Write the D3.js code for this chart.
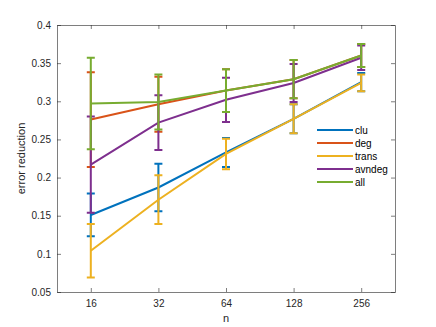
<!DOCTYPE html>
<html>
<head>
<meta charset="utf-8">
<script src="https://cdn.jsdelivr.net/npm/d3@7"></script>
<style>
  body { margin: 0; background: #fff; }
  text { font-family: "Liberation Sans", Arial, sans-serif; }
</style>
</head>
<body>
<div id="chart"></div>
<script>
// categories on the x axis
var nLabels = ['16', '32', '64', '128', '256'];

// series means
var clu    = [0.151, 0.187, 0.233, 0.277, 0.325];
var deg    = [0.276, 0.296, 0.314, 0.329, 0.360];
var trans  = [0.104, 0.171, 0.231, 0.277, 0.324];
var avndeg = [0.217, 0.272, 0.302, 0.324, 0.357];
var all    = [0.297, 0.299, 0.314, 0.329, 0.360];

// half widths of the error bars
var cluErr    = [0.028, 0.031, 0.019, 0.019, 0.012];
var degErr    = [0.062, 0.036, 0.028, 0.025, 0.015];
var transErr  = [0.035, 0.032, 0.020, 0.019, 0.011];
var avndegErr = [0.063, 0.036, 0.029, 0.025, 0.016];
var allErr    = [0.060, 0.036, 0.028, 0.025, 0.015];

var yTicks = [0.05, 0.1, 0.15, 0.2, 0.25, 0.3, 0.35, 0.4];

var series = [
    { name : 'clu',    values : clu,    err : cluErr,    color : '#0072BD' },
    { name : 'deg',    values : deg,    err : degErr,    color : '#D95319' },
    { name : 'trans',  values : trans,  err : transErr,  color : '#EDB120' },
    { name : 'avndeg', values : avndeg, err : avndegErr, color : '#7E2F8E' },
    { name : 'all',    values : all,    err : allErr,    color : '#77AC30' }
];

var WIDTH = 436, HEIGHT = 327;
var box = { left : 57, right : 395, top : 25, bottom : 292 };
var AXIS_COLOR = '#262626';
var CAP = 4;

var svg = d3.select('#chart').append('svg')
    .attr('width', WIDTH)
    .attr('height', HEIGHT);

// categorical x positions 1..5, limits at half a step outside
var x = d3.scaleLinear().domain([0.5, nLabels.length + 0.5]).range([box.left, box.right]);
var y = d3.scaleLinear().domain([0.05, 0.4]).range([box.bottom, box.top]);

// axes, MATLAB style ticks pointing inward on all four sides
var xAxis = d3.axisBottom(x)
    .tickValues(d3.range(1, nLabels.length + 1))
    .tickFormat(function(d) { return nLabels[d - 1]; })
    .tickSizeInner(-4).tickSizeOuter(0).tickPadding(8);
var yAxis = d3.axisLeft(y)
    .tickValues(yTicks)
    .tickFormat(function(d) { return d3.format('')(+d.toFixed(2)); })
    .tickSizeInner(-4).tickSizeOuter(0).tickPadding(6);

var gx = svg.append('g').attr('transform', 'translate(0,' + box.bottom + ')').call(xAxis);
var gy = svg.append('g').attr('transform', 'translate(' + box.left + ',0)').call(yAxis);
var gxTop = svg.append('g').attr('transform', 'translate(0,' + box.top + ')')
    .call(d3.axisTop(x).tickValues(d3.range(1, 6)).tickFormat('').tickSizeInner(-4).tickSizeOuter(0));
var gyRight = svg.append('g').attr('transform', 'translate(' + box.right + ',0)')
    .call(d3.axisRight(y).tickValues(yTicks).tickFormat('').tickSizeInner(-4).tickSizeOuter(0));

[gx, gy, gxTop, gyRight].forEach(function(g) {
    g.select('.domain').attr('stroke', AXIS_COLOR).attr('stroke-width', 0.8).attr('opacity', 0.75);
    g.selectAll('.tick line').attr('stroke', AXIS_COLOR).attr('stroke-width', 0.8).attr('opacity', 0.75);
    g.selectAll('.tick text').attr('fill', AXIS_COLOR).style('font-size', '10px');
});

// axis labels
svg.append('text')
    .attr('x', (box.left + box.right) / 2)
    .attr('y', 322)
    .attr('text-anchor', 'middle')
    .attr('fill', AXIS_COLOR)
    .style('font-size', '11px')
    .text('n');
svg.append('text')
    .attr('transform', 'translate(25,' + ((box.top + box.bottom) / 2) + ') rotate(-90)')
    .attr('text-anchor', 'middle')
    .attr('fill', AXIS_COLOR)
    .style('font-size', '11px')
    .text('error reduction');

var line = d3.line()
    .x(function(d, i) { return x(i + 1); })
    .y(function(d) { return y(d); });

// each series: line, vertical error bar and caps
var groups = svg.selectAll('g.series')
    .data(series)
    .enter()
    .append('g')
    .attr('class', 'series');

groups.append('path')
    .attr('d', function(d) { return line(d.values); })
    .attr('fill', 'none')
    .attr('stroke', function(d) { return d.color; })
    .attr('stroke-width', 2);

groups.selectAll('path.err')
    .data(function(d) {
        return d.values.map(function(v, i) {
            return { i : i + 1, lo : v - d.err[i], hi : v + d.err[i], color : d.color };
        });
    })
    .enter()
    .append('path')
    .attr('class', 'err')
    .attr('d', function(d) {
        var cx = x(d.i), y0 = y(d.lo), y1 = y(d.hi);
        return 'M' + cx + ',' + y0 + 'V' + y1 +
               'M' + (cx - CAP) + ',' + y0 + 'H' + (cx + CAP) +
               'M' + (cx - CAP) + ',' + y1 + 'H' + (cx + CAP);
    })
    .attr('fill', 'none')
    .attr('stroke', function(d) { return d.color; })
    .attr('stroke-width', 2);

// legend without a border
var legend = svg.append('g').attr('transform', 'translate(317,130)');
var rows = legend.selectAll('g')
    .data(series)
    .enter()
    .append('g')
    .attr('transform', function(d, i) { return 'translate(0,' + (i * 13) + ')'; });
rows.append('line')
    .attr('x1', 0).attr('x2', 36)
    .attr('stroke', function(d) { return d.color; })
    .attr('stroke-width', 2);
rows.append('text')
    .attr('x', 38)
    .attr('dy', '0.35em')
    .attr('fill', '#000')
    .style('font-size', '10px')
    .text(function(d) { return d.name; });
</script>
</body>
</html>
